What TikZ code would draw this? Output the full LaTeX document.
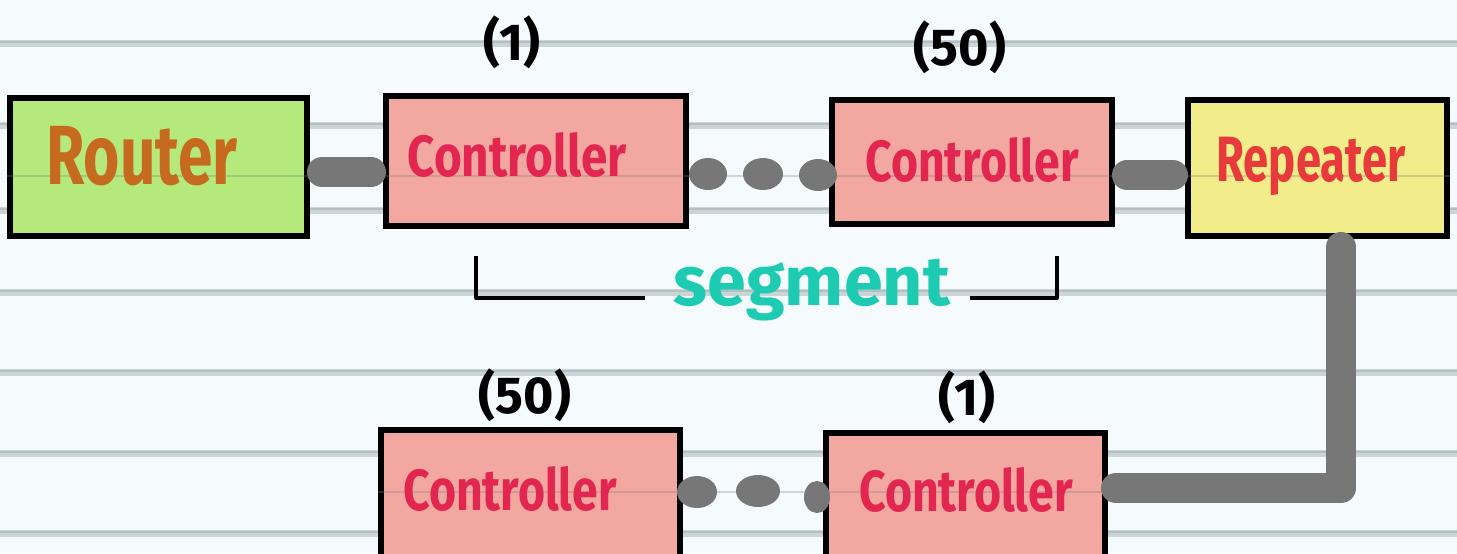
\documentclass[tikz,border=0pt]{standalone}
\usepackage{fontspec}
\setmainfont{Fira Sans}
\definecolor{paper}{HTML}{F5FBFC}
\definecolor{rulecol}{HTML}{CBD5D8}
\definecolor{ruledark}{HTML}{B3BFC3}
\definecolor{routerfill}{HTML}{B6E97B}
\definecolor{routertext}{HTML}{C66A1F}
\definecolor{ctrlfill}{HTML}{F3A7A1}
\definecolor{ctrltext}{HTML}{E3264F}
\definecolor{repfill}{HTML}{F2EC8A}
\definecolor{reptext}{HTML}{E83A3A}
\definecolor{wirecol}{HTML}{777777}
\definecolor{segcol}{HTML}{1CCBB2}
\newcommand{\boxword}[3]{\scalebox{#2}[1]{\fontsize{#1}{#1}\selectfont\bfseries #3}}
\tikzset{
  unitbox/.style={draw=black, line width=3pt, inner sep=0pt},
  wire/.style={draw=wirecol, line width=15pt, line cap=round, line join=round},
  dotmark/.style={fill=wirecol},
  count/.style={font=\fontsize{26}{26}\selectfont\bfseries, text=black, inner sep=0pt},
  paperrule/.style={line width=3.5pt, draw=rulecol},
  paperrulecore/.style={line width=1.2pt, draw=ruledark},
  faintrule/.style={line width=0.8pt, draw=gray, opacity=0.3},
}
\begin{document}
\begin{tikzpicture}[x=0.5pt, y=-0.5pt]
  % page and ruled paper
  \fill[paper] (0,0) rectangle (1457,553);
  \useasboundingbox (0,0) rectangle (1457,553);
  \clip (0,0) rectangle (1457,553);
  \foreach \yy in {43,125,210,292,372,453,533} {
    \draw[paperrule] (0,\yy) -- (1457,\yy);
    \draw[paperrulecore] (0,\yy-1) -- (1457,\yy-1);
  }

  % devices, top row
  \node[unitbox, fill=routerfill, minimum width=148.5pt, minimum height=69pt] (router) at (158.5,167) {};
  \node[unitbox, fill=ctrlfill, minimum width=150pt, minimum height=65pt] (c1) at (536,161) {};
  \node[unitbox, fill=ctrlfill, minimum width=140pt, minimum height=62pt] (c50) at (972,162) {};
  \node[unitbox, fill=repfill, minimum width=129.5pt, minimum height=68pt] (rep) at (1317.5,168) {};
  % devices, bottom row (run past the lower edge)
  \node[unitbox, fill=ctrlfill, minimum width=149.5pt, minimum height=95pt] (d50) at (530.5,525) {};
  \node[unitbox, fill=ctrlfill, minimum width=139.5pt, minimum height=95pt] (d1) at (965.5,528) {};

  % faint paper lines showing through the fills
  \draw[faintrule] (router.west |- 0,176) -- (rep.east |- 0,176);
  \draw[faintrule] (d50.west |- 0,492) -- (d1.east |- 0,492);

  % labels inside the devices
  \node[text=routertext, inner sep=0pt] (routerlbl) at (142,156) {\boxword{42}{0.74}{Router}};
  \node[text=ctrltext, inner sep=0pt] (c1lbl) at (517,155) {\boxword{29}{0.82}{Controller}};
  \node[text=ctrltext, inner sep=0pt] (c50lbl) at (972,160) {\boxword{29}{0.8}{Controller}};
  \node[text=reptext, inner sep=0pt] (replbl) at (1311,166) {\boxword{32}{0.71}{Repeater}};
  \node[text=ctrltext, inner sep=0pt] (d50lbl) at (510,489) {\boxword{29}{0.8}{Controller}};
  \node[text=ctrltext, inner sep=0pt] (d1lbl) at (966,490) {\boxword{29}{0.8}{Controller}};

  % position numbers
  \node[count] (n1) at (512,42) {(1)};
  \node[count] (n50) at (960,47) {(50)};
  \node[count] (m50) at (525,395) {(50)};
  \node[count] (m1) at (967,397) {(1)};

  % links
  \draw[wire, shorten <=6pt, shorten >=6pt] ([yshift=-2.5pt]router.east) -- ([yshift=-2.5pt]router.east -| c1.west);
  \draw[wire, shorten <=6pt, shorten >=6pt] ([yshift=-6.5pt]c50.east) -- ([yshift=-6.5pt]c50.east -| rep.west);
  \coordinate (bend) at (1341,488);
  \draw[wire] ([yshift=-4pt]rep.south -| bend) -- (bend) -- ([xshift=4pt]bend -| d1.east);

  % chain continues (dots)
  \fill[dotmark] (708,174) ellipse (19 and 16);
  \fill[dotmark] (763,174) ellipse (20 and 16);
  \fill[dotmark] (818,175) ellipse (19 and 16);
  \fill[dotmark] (697,492) ellipse (20 and 16);
  \fill[dotmark] (758,491) ellipse (22 and 16);
  \fill[dotmark] (817,497) ellipse (13 and 16);

  % segment bracket
  \node[text=segcol, inner sep=0pt] (seg) at (812,290) {\fontsize{35}{35}\selectfont\bfseries segment};
  \coordinate (segTL) at (476,256);
  \coordinate (segBL) at (476,298);
  \coordinate (segTR) at (1057,256);
  \coordinate (segBR) at (1057,298);
  \draw[line width=2pt, line join=round] (segTL) -- (segBL) -- (645,298);
  \draw[line width=2pt, line join=round] (970,298) -- (segBR) -- (segTR);
\end{tikzpicture}
\end{document}
